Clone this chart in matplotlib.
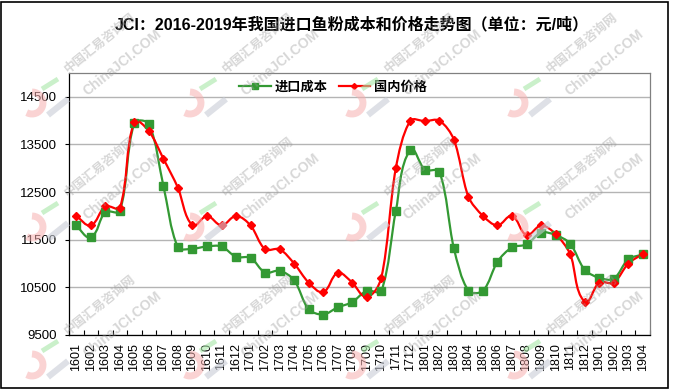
"""Imported fish meal cost vs domestic price, 2016-2019 (JCI style line chart)."""

import matplotlib
matplotlib.use("Agg")
import matplotlib.pyplot as plt
from matplotlib.path import Path
from matplotlib.patches import PathPatch, Rectangle
from matplotlib.lines import Line2D
import numpy as np

plt.rcParams['font.family'] = ['Liberation Sans', 'Noto Sans CJK SC', 'DejaVu Sans']

months = ['1601', '1602', '1603', '1604', '1605', '1606', '1607', '1608', '1609', '1610',
          '1611', '1612', '1701', '1702', '1703', '1704', '1705', '1706', '1707', '1708',
          '1709', '1710', '1711', '1712', '1801', '1802', '1803', '1804', '1805', '1806',
          '1807', '1808', '1809', '1810', '1811', '1812', '1901', '1902', '1903', '1904']
import_cost = [11800, 11550, 12080, 12100, 13950, 13930, 12630, 11340, 11310, 11360,
               11360, 11140, 11120, 10810, 10850, 10650, 10040, 9930, 10080, 10190,
               10430, 10420, 12100, 13390, 12970, 12930, 11320, 10430, 10430, 11040,
               11340, 11400, 11650, 11600, 11420, 10870, 10700, 10680, 11090, 11190]
domestic_price = [12000, 11800, 12200, 12170, 13980, 13780, 13200, 12590, 11800, 12000,
                  11800, 12000, 11800, 11300, 11300, 11000, 10600, 10400, 10800, 10600,
                  10300, 10700, 13000, 14000, 13990, 14000, 13600, 12400, 12000, 11800,
                  12000, 11600, 11800, 11620, 11200, 10200, 10600, 10600, 11000, 11200]
y_ticks = [9500, 10500, 11500, 12500, 13500, 14500]

title = 'JCI：2016-2019年我国进口鱼粉成本和价格走势图（单位：元/吨）'
series_names = ['进口成本', '国内价格']
GREEN = '#339933'
RED = '#ff0000'
W, H = 673, 391
AX_L, AX_R, AX_T, AX_B = 69, 650, 73, 335
Y_MIN, Y_MAX = 9500, 15000


def smooth_path(xs, ys, sx, sy, f=0.3):
    """Excel-like smoothed line. Bezier handles scale with segment length on screen."""
    q = np.column_stack([np.asarray(xs) * sx, np.asarray(ys) * sy]).astype(float)
    n = len(q)
    tang = []
    for i in range(n):
        d = q[min(i + 1, n - 1)] - q[max(i - 1, 0)]
        tang.append(d / np.hypot(*d))
    verts = [q[0]]
    codes = [Path.MOVETO]
    for i in range(n - 1):
        seg = np.hypot(*(q[i + 1] - q[i])) * f
        verts += [q[i] + tang[i] * seg, q[i + 1] - tang[i + 1] * seg, q[i + 1]]
        codes += [Path.CURVE4] * 3
    verts = np.array(verts) / [sx, sy]
    return Path(verts, codes)


fig = plt.figure(figsize=(W / 100, H / 100), dpi=100)
ax = fig.add_axes([AX_L / W, 1 - AX_B / H, (AX_R - AX_L) / W, (AX_B - AX_T) / H])

x = np.arange(len(months))
sx = (AX_R - AX_L) / len(months)
sy = (AX_B - AX_T) / (Y_MAX - Y_MIN)
for vals, color, marker, ms in [(import_cost, GREEN, 's', 5.2),
                                (domestic_price, RED, 'D', 3.8)]:
    ax.add_patch(PathPatch(smooth_path(x, vals, sx, sy), facecolor='none',
                           edgecolor=color, lw=1.6, zorder=3))
    ax.plot(x, vals, linestyle='none', marker=marker, ms=ms,
            color=color, zorder=4)

ax.set_xlim(-0.5, len(months) - 0.5)
ax.set_ylim(Y_MIN, Y_MAX)
ax.set_yticks(y_ticks)
ax.set_yticklabels([str(v) for v in y_ticks], fontsize=9.5)
ax.set_xticks(x)
ax.set_xticklabels(months, rotation=90, fontsize=9)
ax.set_xticks(np.arange(-0.5, len(months)), minor=True)
ax.tick_params(axis='x', which='major', length=0, pad=6)
ax.tick_params(axis='x', which='minor', length=3.5, direction='in', width=0.8)
ax.tick_params(axis='y', length=3, width=0.8, pad=5.5)
ax.yaxis.grid(True, color='#b4b4b4', lw=1)
ax.set_axisbelow(True)
for side in ('left', 'bottom'):
    ax.spines[side].set_color('black')
    ax.spines[side].set_linewidth(0.9)
for side in ('top', 'right'):
    ax.spines[side].set_color('#808080')
    ax.spines[side].set_linewidth(0.9)

handles = [Line2D([], [], color=GREEN, lw=1.6, marker='s', ms=4),
           Line2D([], [], color=RED, lw=1.6, marker='D', ms=3)]
ax.legend(handles, series_names, loc='center', bbox_to_anchor=(0.455, 0.947),
          ncol=2, frameon=False, handlelength=2.4, handletextpad=0.3,
          columnspacing=0.8, prop={'family': ['Noto Sans CJK SC'], 'weight': 'bold', 'size': 9.5})

fig.text(352 / W, 1 - 25 / H, title, ha='center', va='center', fontsize=11.5,
         fontweight='bold', family=['Liberation Sans', 'Noto Sans CJK SC'])


def fig_line(px, py, **kw):
    """Decorative line given in figure pixel coordinates (top-left origin)."""
    fig.lines.append(Line2D(np.asarray(px) / W, 1 - np.asarray(py) / H,
                            transform=fig.transFigure, solid_capstyle='butt', **kw))


# watermark blocks: logo + two text lines
t = np.linspace(-np.pi / 2, np.pi / 2 + 0.5, 20)
for cy in (43, 167, 305):
    for cx in (100, 258, 420, 582):
        lx, ly = cx - 60, cy + 60
        fig_line(lx - 8 + 11 * np.cos(t), ly + 11 * np.sin(t), color='#f6b0b0',
                 lw=5, alpha=0.55, zorder=9)
        fig_line([lx + 2, lx + 18], [ly - 14, ly - 24], color='#a8e6a8', lw=3.5,
                 alpha=0.6, zorder=9)
        fig_line([lx + 8, lx + 28], [ly + 12, ly - 4], color='#c8ccd6', lw=4.5,
                 alpha=0.6, zorder=9)
        fig.text(cx / W, 1 - cy / H, '中国汇易咨询网', rotation=39, ha='center', va='center',
                 fontsize=9, color='#9a9a9a', alpha=0.4, zorder=10,
                 family=['Noto Sans CJK SC'], fontweight='bold')
        fig.text((cx + 22) / W, 1 - (cy + 20) / H, 'ChinaJCI.COM', rotation=39,
                 ha='center', va='center', fontsize=10, color='#9a9a9a', alpha=0.4,
                 zorder=10, fontweight='bold')

fig.patches.append(Rectangle((1 / W, 3 / H), 667 / W, 386 / H, transform=fig.transFigure,
                             fill=False, edgecolor='black', lw=1.2))

fig.savefig('out.png', dpi=100)
plt.close(fig)
